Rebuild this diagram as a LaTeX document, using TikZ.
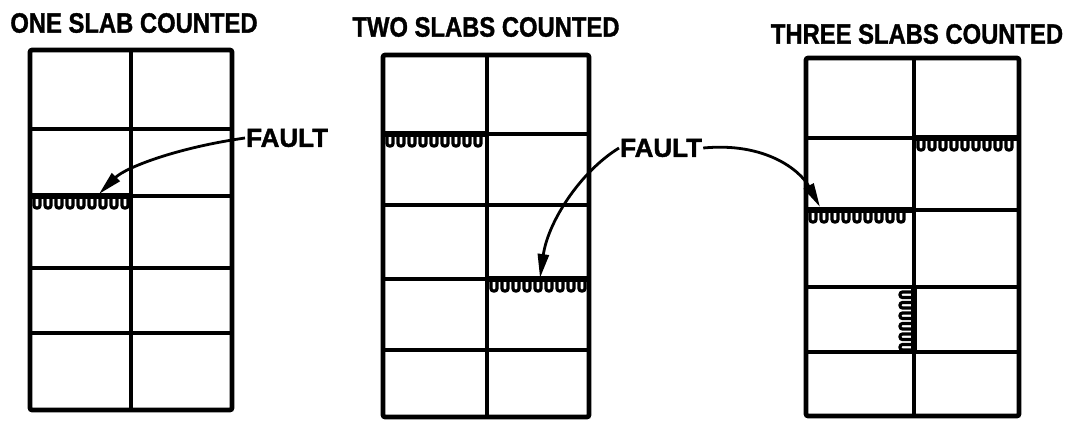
\documentclass[tikz,border=0pt]{standalone}
\usepackage{fontspec}
\setmainfont{Liberation Sans}
\newfontfamily\headfont[FakeStretch=0.85,FakeBold=1.2]{Liberation Sans Bold}
\newfontfamily\faultfont[FakeBold=1.5]{Liberation Sans Bold}
\usepackage{tikz}
\usetikzlibrary{arrows.meta,positioning}
% comb of slab edge marks: left x, y of edge, last tooth index
\newcommand{\combh}[3]{%
  \foreach \k in {0,...,#3}
    \draw[tooth] ({#1+4+\k*11},#2) -- ++(0,11) -- ++(6,0) -- ++(0,-11);}
% same, hanging left of a vertical edge
\newcommand{\combv}[3]{%
  \foreach \k in {0,...,#3}
    \draw[tooth] (#1,{#2+4+\k*10.5}) -- ++(-12,0) -- ++(0,5.5) -- ++(12,0);}

\begin{document}
\begin{tikzpicture}[
  x=1pt, y=-1pt,
  >={Triangle[length=24pt,width=11pt]},
  frame/.style={draw=black, line width=4.6pt, rounded corners=2pt},
  cell/.style={draw=black, line width=3.3pt},
  faultline/.style={draw=black, line width=5.5pt},
  tooth/.style={draw=black, line width=3.2pt, rounded corners=2.5pt},
  title/.style={font=\headfont\fontsize{28}{28}\selectfont, inner sep=0pt},
  faultlbl/.style={font=\faultfont\fontsize{26}{26}\selectfont, inner sep=1pt},
  arr/.style={->, line width=2.8pt, draw=black}
]
  \useasboundingbox (0,0) rectangle (1068,421);

  % --- titles ---
  \node[title] (t1) at (134,23) {ONE SLAB COUNTED};
  \node[title] (t2) at (486,27) {TWO SLABS COUNTED};
  \node[title] (t3) at (917,34) {THREE SLABS COUNTED};

  % --- grid 1 ---
  \draw[cell] (131,50) -- (131,410);
  \foreach \ry in {129,196,268,333} \draw[cell] (30,\ry) -- (232,\ry);
  \draw[frame] (30,50) rectangle (232,410);
  \draw[faultline] (30,196) -- (131,196);
  \combh{30}{197}{8}

  % --- grid 2 ---
  \draw[cell] (487,55) -- (487,417);
  \foreach \ry in {134,205,279,350} \draw[cell] (383,\ry) -- (589,\ry);
  \draw[frame] (383,55) rectangle (589,417);
  \draw[faultline] (383,134) -- (487,134);
  \combh{383}{135}{8}
  \draw[faultline] (487,279) -- (589,279);
  \combh{487}{280}{8}

  % --- grid 3 ---
  \draw[cell] (914,58) -- (914,416);
  \foreach \ry in {138,210,287,352} \draw[cell] (806,\ry) -- (1019,\ry);
  \draw[frame] (806,58) rectangle (1019,416);
  \draw[faultline] (914,138) -- (1019,138);
  \combh{914}{139}{8}
  \draw[faultline] (806,210) -- (914,210);
  \combh{806}{211}{8}
  \draw[faultline] (914,287) -- (914,352);
  \combv{912}{288}{5}

  % --- fault labels and pointers ---
  \coordinate (f1tip) at (99,194);
  \coordinate (f2tip) at (540,278);
  \coordinate (f3tip) at (820,207);
  \node[faultlbl, anchor=west] (fault1) at (245,138) {FAULT};
  \node[faultlbl, anchor=west] (fault2) at (619,148) {FAULT};
  \draw[arr] (fault1.west) .. controls (175,148) and (125,168) .. (f1tip);
  \draw[arr] (fault2.west) .. controls (580,172) and (548,222) .. (f2tip);
  \draw[arr] (fault2.east) .. controls (765,142) and (800,170) .. (f3tip);
\end{tikzpicture}
\end{document}
